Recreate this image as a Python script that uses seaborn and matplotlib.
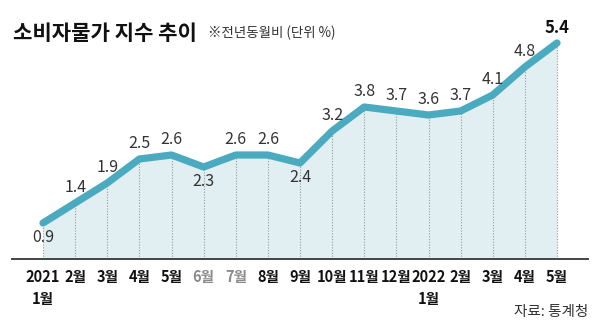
import matplotlib
matplotlib.use("Agg")
import matplotlib.pyplot as plt
import seaborn as sns
import pandas as pd
import numpy as np

months = ["2021\n1월", "2월", "3월", "4월", "5월", "6월", "7월", "8월", "9월",
          "10월", "11월", "12월", "2022\n1월", "2월", "3월", "4월", "5월"]
values = [0.9, 1.4, 1.9, 2.5, 2.6, 2.3, 2.6, 2.6, 2.4,
          3.2, 3.8, 3.7, 3.6, 3.7, 4.1, 4.8, 5.4]
label_below = [True, False, False, False, False, True, False, False, True,
               False, False, False, False, False, False, False, False]

title = "소비자물가 지수 추이"
subtitle = "※전년동월비 (단위 %)"
source = "자료: 통계청"

sns.set_theme(style="white")
plt.rcParams['font.family'] = ['Noto Sans CJK KR', 'DejaVu Sans']

W, H = 600, 329
fig = plt.figure(figsize=(6.0, 3.29), dpi=100)
fig.patch.set_facecolor("white")
ax = fig.add_axes([12 / W, (H - 259) / H, 576 / W, 259 / H])
ax.set_facecolor("none")

df = pd.DataFrame({"idx": np.arange(len(values)), "value": values})

line_color = "#4aaac0"
fill_color = "#e1eef2"

ax.fill_between(df["idx"], df["value"], 0, color=fill_color, zorder=1, lw=0)
ax.vlines(df["idx"], 0, df["value"], colors="#9a9a9a", linestyles=(0, (1, 1.5)),
          lw=0.8, zorder=2)
sns.lineplot(data=df, x="idx", y="value", ax=ax, color=line_color, lw=5.2,
             zorder=3, solid_capstyle="round", solid_joinstyle="round")

for i, (v, below) in enumerate(zip(values, label_below)):
    last = i == len(values) - 1
    ax.annotate(f"{v:.1f}", (i, v), xytext=(0, -10.5 if below else 11),
                textcoords="offset points", ha="center", va="center",
                fontsize=12 if last else 11.5,
                fontweight="bold" if last else "normal",
                color="#111111" if last else "#333333", zorder=5,
                family=['Liberation Sans Narrow', 'Noto Sans CJK KR'])

ax.set_xlim((12 - 43) / 32.125, 16 + (588 - 557) / 32.125)
ax.set_ylim(0, 259 / 40)
ax.set_xticks(df["idx"])
ax.set_xticklabels(months)
for i, lab in enumerate(ax.get_xticklabels()):
    lab.set_fontweight("bold")
    lab.set_fontsize(10.5)
    lab.set_color("#8a8a8a" if i in (5, 6) else "#111111")
    lab.set_linespacing(1.45)
    lab.set_family(['Liberation Sans Narrow', 'Noto Sans CJK KR'])
ax.tick_params(axis="x", length=0, pad=7)
ax.set_yticks([])
ax.set_xlabel("")
ax.set_ylabel("")
for s in ["top", "right", "left"]:
    ax.spines[s].set_visible(False)
ax.spines["bottom"].set_color("#444444")
ax.spines["bottom"].set_linewidth(1.4)
ax.spines["bottom"].set_zorder(4)

fig.text(13 / W, 1 - 33 / H, title, fontsize=15.2, fontweight="bold",
         color="#111111", ha="left", va="center")
fig.text(208 / W, 1 - 33 / H, subtitle, fontsize=9.7, color="#333333",
         ha="left", va="center")
fig.text(588 / W, 1 - 312 / H, source, fontsize=10.5, color="#333333",
         ha="right", va="center")

fig.savefig("out.png", dpi=100, facecolor="white")
